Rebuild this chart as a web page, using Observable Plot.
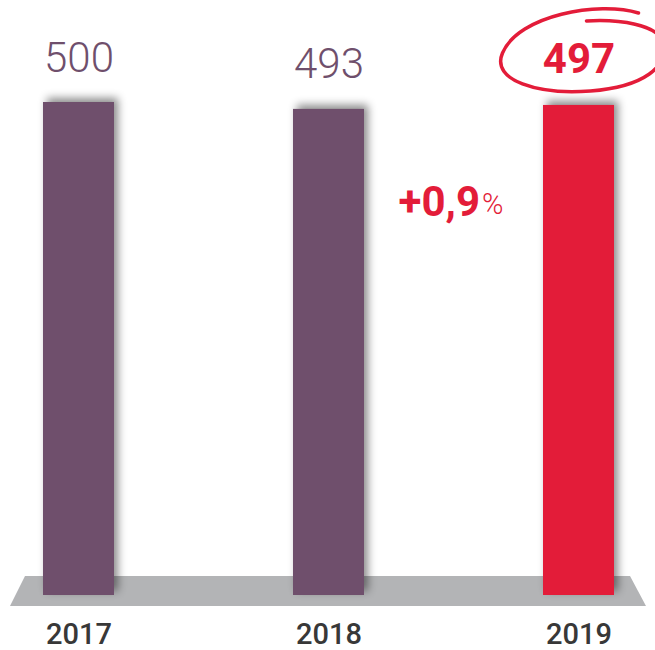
<!DOCTYPE html>
<html>
<head>
<meta charset="utf-8">
<script src="https://cdn.jsdelivr.net/npm/d3@7"></script>
<script src="https://cdn.jsdelivr.net/npm/@observablehq/plot@0.6"></script>
<style>
  html, body { margin: 0; padding: 0; background: #fff; }
  #chart svg { display: block; }
  .bars rect { filter: drop-shadow(4px -4px 4px rgba(0,0,0,0.45)); }
</style>
</head>
<body>
<div id="chart"></div>
<script>
const years = ["2017", "2018", "2019"];
const values = [500, 493, 497];
const labels = ["500", "493", "497"];
const highlight = [false, false, true];
const changeText = "+0,9";
const changeUnit = "%";

const purple = "#6f4f6c";
const red = "#e31c39";

const data = years.map((y, i) => ({year: y, value: values[i], label: labels[i], hl: highlight[i]}));

// gray floor under the bars
function floor(index, scales, channels, dimensions) {
  const x = scales.x, y = scales.y;
  const bw = x.bandwidth();
  const left = x(years[0]), right = x(years[years.length - 1]) + bw;
  const y0 = y(0);
  const pts = [[left - 18, y0 - 19], [right + 16, y0 - 19], [right + 32, y0 + 11], [left - 33, y0 + 11]];
  return d3.create("svg:path")
    .attr("d", "M" + pts.map(p => p.join(",")).join("L") + "Z")
    .attr("fill", "#b3b4b6")
    .node();
}

// hand-drawn circle around the highlighted value
function ring(index, scales) {
  const i = highlight.indexOf(true);
  const cx = scales.x(years[i]) + scales.x.bandwidth() / 2;
  const cy = scales.y(values[i]) - 52;
  const p = (dx, dy) => (cx + dx) + "," + (cy + dy);
  const d = "M" + p(60, -40) +
    "C" + p(20, -52) + " " + p(-60, -38) + " " + p(-76, 0) +
    "C" + p(-88, 28) + " " + p(-40, 42) + " " + p(12, 38) +
    "C" + p(64, 34) + " " + p(92, 14) + " " + p(84, -12) +
    "C" + p(78, -28) + " " + p(42, -34) + " " + p(8, -32);
  return d3.create("svg:path")
    .attr("d", d)
    .attr("fill", "none")
    .attr("stroke", red)
    .attr("stroke-width", 3.5)
    .attr("stroke-linecap", "round")
    .node();
}

const chart = Plot.plot({
  width: 655,
  height: 650,
  margin: 0,
  style: {fontFamily: "Roboto, sans-serif", background: "#fff"},
  x: {domain: years, range: [42.5, 613.5], paddingInner: 0.716, paddingOuter: 0, align: 0.5, axis: null},
  y: {domain: [0, 500], range: [595, 102], axis: null},
  marks: [
    floor,
    Plot.barY(data, {x: "year", y: "value", fill: d => d.hl ? red : purple, className: "bars"}),
    Plot.text(data.filter(d => !d.hl), {x: "year", y: "value", text: "label", dy: -31, lineAnchor: "bottom",
      fill: purple, fontSize: 42, fontWeight: 300, style: "letter-spacing:-1.5px"}),
    Plot.text(data.filter(d => d.hl), {x: "year", y: "value", text: "label", dy: -32, lineAnchor: "bottom",
      fill: red, fontSize: 42, fontWeight: 700, style: "letter-spacing:-1.5px"}),
    ring,
    Plot.text(data, {x: "year", y: () => 0, text: "year", dy: 48, lineAnchor: "bottom",
      fill: "#383838", fontSize: 29, fontWeight: 500, style: "letter-spacing:-1px"}),
    Plot.text([changeText], {x: () => years[2], frameAnchor: "top", dy: 215, dx: -99, text: d => d,
      textAnchor: "end", lineAnchor: "bottom", fill: red, fontSize: 42, fontWeight: 700}),
    Plot.text([changeUnit], {x: () => years[2], frameAnchor: "top", dy: 213, dx: -97, text: d => d,
      textAnchor: "start", lineAnchor: "bottom", fill: red, fontSize: 29, fontWeight: 300})
  ]
});
document.getElementById("chart").appendChild(chart);
</script>
</body>
</html>
